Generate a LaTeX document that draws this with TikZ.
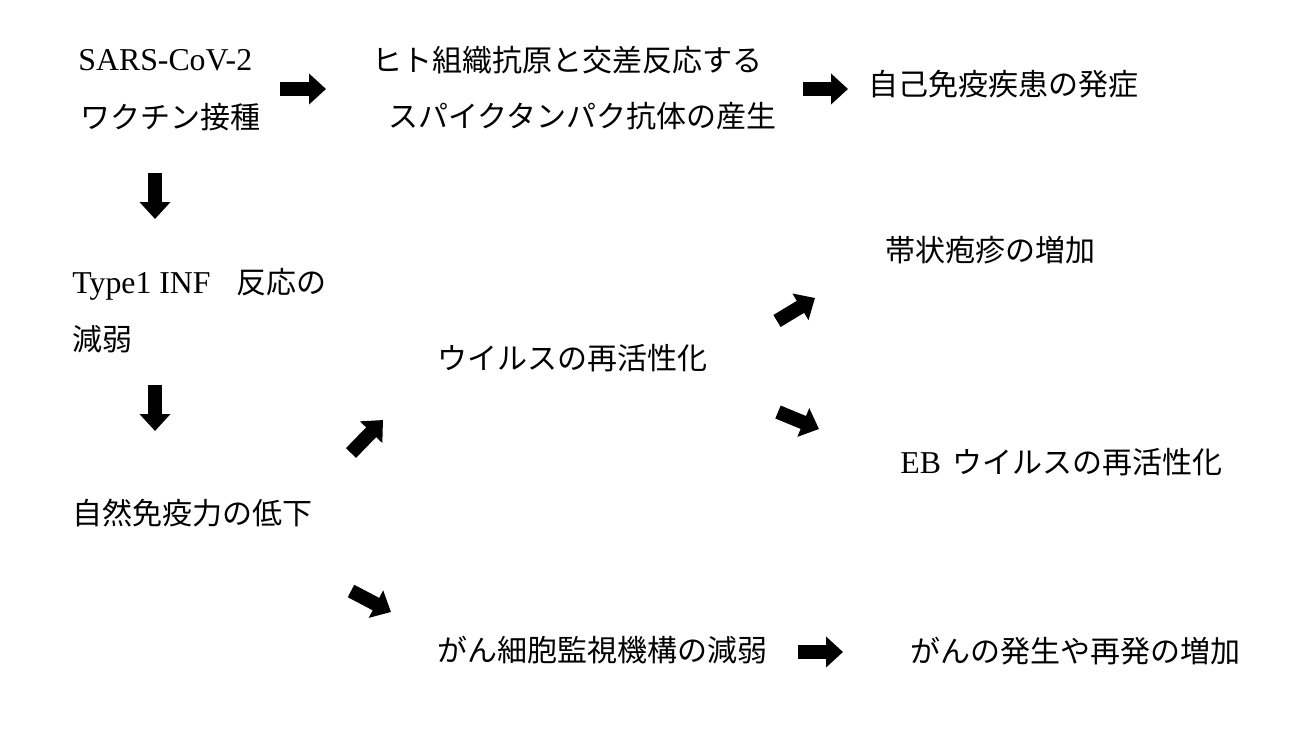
\documentclass[tikz,border=0pt]{standalone}
\usepackage{fontspec}
\usepackage{tikz}
\usetikzlibrary{positioning,arrows.meta}
\setmainfont{Liberation Serif}[Scale=1.06]
\newfontfamily\jp{Noto Sans CJK JP}
\tikzset{x=0.5pt, y=-0.5pt,
         txt/.style={anchor=west, inner sep=0pt, font=\fontsize{15}{18}\selectfont},
         jtxt/.style={txt, font=\jp\fontsize{15}{18}\selectfont},
         fat/.style={line width=7pt, -{Triangle[length=8.5pt,width=15pt]}}}

\begin{document}
\begin{tikzpicture}

              \path [fill=white, use as bounding box] (0,0) rectangle (1312,734);

              \node (Sars)   [txt]  at (78,60)   {SARS-CoV-2};
              \node (Vac)    [jtxt] at (80,117)  {ワクチン接種};
              \node (Cross)  [jtxt] at (372,60)  {ヒト組織抗原と交差反応する};
              \node (Spike)  [jtxt] at (388,116) {スパイクタンパク抗体の産生};
              \node (Auto)   [jtxt] at (868,84)  {自己免疫疾患の発症};

              \node (Inf)    [txt]  at (72,284)  {\makebox[82pt][l]{Type1 INF}{\jp 反応の}};
              \node (Inf2)   [jtxt] at (72,339)  {減弱};
              \node (Innate) [jtxt] at (72,513)  {自然免疫力の低下};

              \node (React)  [jtxt] at (437,358) {ウイルスの再活性化};
              \node (Zoster) [jtxt] at (885,250) {帯状疱疹の増加};
              \node (Ebv)    [txt]  at (900,462) {\makebox[26pt][l]{EB}{\jp ウイルスの再活性化}};

              \node (Surv)   [jtxt] at (437,650) {がん細胞監視機構の減弱};
              \node (Cancer) [jtxt] at (910,651) {がんの発生や再発の増加};

              \coordinate (a1) at (280,89);  \coordinate (b1) at (326,89);
              \coordinate (a2) at (803,89);  \coordinate (b2) at (848,89);
              \coordinate (a3) at (155,173); \coordinate (b3) at (155,219);
              \coordinate (a4) at (155,385); \coordinate (b4) at (155,431);
              \coordinate (a5) at (351,453); \coordinate (b5) at (383,420);
              \coordinate (a6) at (777,321); \coordinate (b6) at (815,298);
              \coordinate (a7) at (778,412); \coordinate (b7) at (819,429);
              \coordinate (a8) at (351,591); \coordinate (b8) at (391,612);
              \coordinate (a9) at (798,652); \coordinate (b9) at (843,652);

              \draw [fat] (a1) to (b1);
              \draw [fat] (a2) to (b2);
              \draw [fat] (a3) to (b3);
              \draw [fat] (a4) to (b4);
              \draw [fat] (a5) to (b5);
              \draw [fat] (a6) to (b6);
              \draw [fat] (a7) to (b7);
              \draw [fat] (a8) to (b8);
              \draw [fat] (a9) to (b9);
            \end{tikzpicture}
\end{document}
